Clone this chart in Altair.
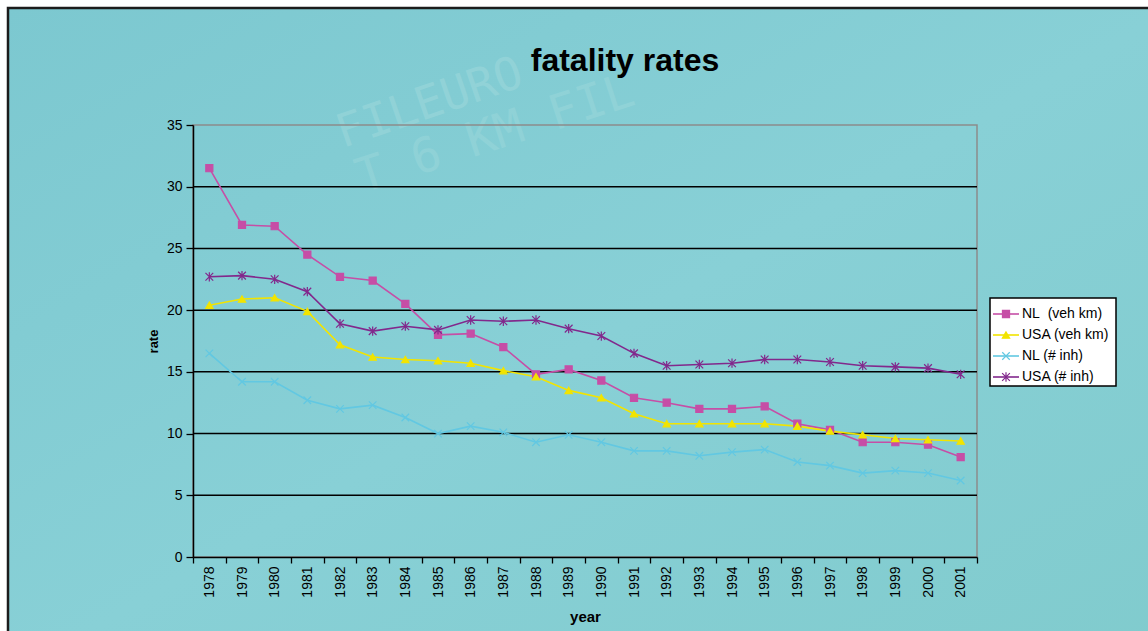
import altair as alt
import pandas as pd

# Annual road fatality rates, 1978-2001
years = [str(y) for y in range(1978, 2002)]
series = ["NL\u00a0 (veh km)", "USA (veh km)", "NL (# inh)", "USA (# inh)"]

nl_veh = [31.5, 26.9, 26.8, 24.5, 22.7, 22.4, 20.5, 18.0, 18.1, 17.0, 14.8, 15.2,
          14.3, 12.9, 12.5, 12.0, 12.0, 12.2, 10.8, 10.3, 9.3, 9.3, 9.1, 8.1]
usa_veh = [20.4, 20.9, 21.0, 19.9, 17.2, 16.2, 16.0, 15.9, 15.7, 15.1, 14.6, 13.5,
           12.9, 11.6, 10.8, 10.8, 10.8, 10.8, 10.6, 10.2, 9.9, 9.6, 9.5, 9.4]
nl_inh = [16.5, 14.2, 14.2, 12.7, 12.0, 12.3, 11.3, 10.0, 10.6, 10.1, 9.3, 9.9,
          9.3, 8.6, 8.6, 8.2, 8.5, 8.7, 7.7, 7.4, 6.8, 7.0, 6.8, 6.2]
usa_inh = [22.7, 22.8, 22.5, 21.5, 18.9, 18.3, 18.7, 18.4, 19.2, 19.1, 19.2, 18.5,
           17.9, 16.5, 15.5, 15.6, 15.7, 16.0, 16.0, 15.8, 15.5, 15.4, 15.3, 14.8]

grid_values = [5, 10, 15, 20, 25, 30]
y_ticks = [0, 5, 10, 15, 20, 25, 30, 35]

colors = ["#c64ea6", "#f2e400", "#62c8e2", "#82288c"]
shapes = ["square", "triangle-up",
          "M-1,-1L1,1M-1,1L1,-1",
          "M-1,-1L1,1M-1,1L1,-1M0,-1.2L0,1.2"]
sizes = [50, 60, 28, 26]

FONT = "Liberation Sans"
NARROW = "Liberation Sans Narrow, Liberation Sans"
W, H = 784, 432

rows = []
for name, vals in zip(series, [nl_veh, usa_veh, nl_inh, usa_inh]):
    for yr, v in zip(years, vals):
        rows.append({"year": yr, "series": name, "value": v})
df = pd.DataFrame(rows)

x_enc = alt.X("year:O", sort=years,
              scale=alt.Scale(type="band", paddingInner=0, paddingOuter=0),
              axis=alt.Axis(title="year", labelAngle=270, labelFontSize=14,
                            labelFont=FONT, labelColor="black", labelPadding=3,
                            tickBand="extent", tickSize=6, tickColor="black",
                            tickWidth=1.3, domainColor="black", domainWidth=1.5,
                            grid=False, titleFont=NARROW, titleFontSize=15,
                            titleFontWeight="bold", titleColor="black",
                            titleY=59, titleBaseline="middle", zindex=2))
y_enc = alt.Y("value:Q",
              scale=alt.Scale(domain=[0, 35], nice=False, zero=True),
              axis=alt.Axis(title="rate", values=y_ticks, labelFontSize=14,
                            labelFont=FONT, labelColor="black", labelPadding=4,
                            tickSize=7, tickColor="black", tickWidth=1.3,
                            domainColor="black", domainWidth=1.5, grid=False,
                            titleFont=NARROW, titleFontSize=13,
                            titleFontWeight="bold", titleColor="black",
                            titleX=-40, titleY=H / 2, titleAngle=270,
                            titleAlign="center", titleBaseline="middle",
                            zindex=2))

color_scale = alt.Scale(domain=series, range=colors)
shape_scale = alt.Scale(domain=series, range=shapes)
size_scale = alt.Scale(domain=series, range=sizes)

one = alt.Data(values=[{}])

# Teal backdrop with a dark frame on the top and left edges
backdrop = alt.Chart(one).mark_rect(
    fill=alt.LinearGradient(
        gradient="linear", x1=0, y1=0, x2=1, y2=1,
        stops=[alt.GradientStop(color="#7cc8d0", offset=0),
               alt.GradientStop(color="#88d0d6", offset=0.5),
               alt.GradientStop(color="#80cbcd", offset=1)]),
    stroke="#1c1c1c", strokeWidth=2.5
).encode(x=alt.value(-185), x2=alt.value(W + 200),
         y=alt.value(-117), y2=alt.value(H + 120))

# Faint lettering in the backdrop
watermark = alt.Chart(one).mark_text(
    text="FILEURO", font="DejaVu Sans Mono", fontSize=46, angle=341,
    color="#b4e2e2", opacity=0.3, align="left", baseline="middle"
).encode(x=alt.value(145), y=alt.value(10))
watermark2 = alt.Chart(one).mark_text(
    text="T 6 KM FIL", font="DejaVu Sans Mono", fontSize=48, angle=342,
    color="#b4e2e2", opacity=0.25, align="left", baseline="middle"
).encode(x=alt.value(165), y=alt.value(55))

frame = alt.Chart(one).mark_rect(fill=None, stroke="#8c8c8c", strokeWidth=1.5).encode(
    x=alt.value(0), x2=alt.value(W), y=alt.value(0), y2=alt.value(H))

grid = alt.Chart(pd.DataFrame({"g": grid_values})).mark_rule(
    color="black", strokeWidth=1.5
).encode(y=alt.Y("g:Q", scale=alt.Scale(domain=[0, 35], nice=False)))

base = alt.Chart(df)
lines = base.mark_line(strokeWidth=1.6).encode(
    x=x_enc, y=y_enc,
    color=alt.Color("series:N", scale=color_scale, legend=None),
    detail="series:N")
points = base.mark_point(filled=True, strokeWidth=1.2, opacity=1).encode(
    x=x_enc, y=y_enc,
    shape=alt.Shape("series:N", scale=shape_scale, legend=None),
    fill=alt.Fill("series:N", scale=color_scale, legend=None),
    stroke=alt.Stroke("series:N", scale=color_scale, legend=None),
    size=alt.Size("series:N", scale=size_scale, legend=None))

# Legend box at the right of the plot
leg_df = pd.DataFrame({"series": series, "row": list(range(len(series)))})
leg = alt.Chart(leg_df).transform_calculate(py="189 + datum.row * 21")
leg_box = alt.Chart(one).mark_rect(fill="white", stroke="black", strokeWidth=1.5).encode(
    x=alt.value(797), x2=alt.value(923), y=alt.value(173), y2=alt.value(261))
leg_line = leg.mark_rule(strokeWidth=1.6).encode(
    x=alt.value(800), x2=alt.value(826),
    y=alt.Y("py:Q", scale=None),
    color=alt.Color("series:N", scale=color_scale, legend=None))
leg_pt = leg.mark_point(filled=True, strokeWidth=1.2, opacity=1).encode(
    x=alt.value(813), y=alt.Y("py:Q", scale=None),
    shape=alt.Shape("series:N", scale=shape_scale, legend=None),
    fill=alt.Fill("series:N", scale=color_scale, legend=None),
    stroke=alt.Stroke("series:N", scale=color_scale, legend=None),
    size=alt.Size("series:N", scale=size_scale, legend=None))
leg_txt = leg.mark_text(align="left", baseline="middle", font=FONT,
                        fontSize=14, color="black").encode(
    x=alt.value(829), y=alt.Y("py:Q", scale=None), text="series:N")

title = alt.Chart(one).mark_text(text="fatality rates", font=FONT, fontSize=32,
                                 fontWeight="bold", align="center",
                                 baseline="alphabetic", color="black").encode(
    x=alt.value(432), y=alt.value(-54))

chart = alt.layer(
    backdrop, watermark, watermark2, frame, grid, lines, points,
    leg_box, leg_line, leg_pt, leg_txt, title
).properties(
    width=W, height=H,
    padding={"left": 193, "top": 125, "right": 171, "bottom": 74},
    autosize=alt.AutoSizeParams(type="none"),
).configure(background="white").configure_view(stroke=None, fill=None)

chart.save("out.html", embed_options={"renderer": "svg", "actions": False})
